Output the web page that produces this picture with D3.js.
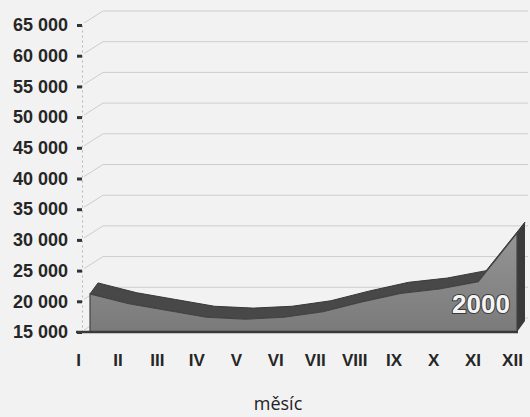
<!DOCTYPE html>
<html>
<head>
<meta charset="utf-8">
<script src="https://cdn.jsdelivr.net/npm/d3@7/dist/d3.min.js"></script>
<style>
    body { margin: 0; background: #f2f2f2; }
    svg { display: block; }
    .y-axis text, .x-axis text { font-family: "Liberation Sans", Arial, sans-serif; font-weight: bold; fill: #262626; }
</style>
</head>
<body>
<svg id="chart" width="530" height="417"></svg>
<script>
// data
var months = ["I", "II", "III", "IV", "V", "VI", "VII", "VIII", "IX", "X", "XI", "XII"];
var visitors = [21200, 19600, 18500, 17400, 17100, 17400, 18300, 19900, 21300, 22000, 23200, 31100];
var yTicks = [15000, 20000, 25000, 30000, 35000, 40000, 45000, 50000, 55000, 60000, 65000];
var seriesName = "2000";
var xTitle = "měsíc";

var svg = d3.select("#chart"),
    width = 530,
    wall = { dx: 21, dy: -14 },   // back wall offset (3D look)
    depth = { dx: 8, dy: -11 };   // thickness of the area ribbon

var cz = d3.formatLocale({ decimal: ",", thousands: " ", grouping: [3], currency: ["", " Kč"] });
var fmt = cz.format(",d");

var y = d3.scaleLinear().domain([15000, 65000]).range([332, 25]);
var xArea = d3.scalePoint().domain(months).range([90, 517]);
var xLabel = d3.scalePoint().domain(months).range([78, 512]);

// back wall gridlines
svg.append("g").classed("grid", true)
    .selectAll("path")
    .data(yTicks)
    .enter()
    .append("path")
    .attr("d", function (t) {
        var y0 = y(t);
        return "M84," + (y0 - 2) + "L" + (82 + wall.dx) + "," + (y0 + wall.dy) + "L" + (width - 2) + "," + (y0 + wall.dy);
    })
    .style("fill", "none")
    .style("stroke", "#cdcdcd")
    .style("stroke-width", 1);

// y axis
var yAxis = d3.axisLeft(y)
    .tickValues(yTicks)
    .tickFormat(fmt)
    .tickSizeInner(5)
    .tickSizeOuter(0)
    .tickPadding(9);

var yAxisGroup = svg.append("g").classed("y-axis", true)
    .attr("transform", "translate(82,0)")
    .call(yAxis);
yAxisGroup.select(".domain").style("stroke", "#b5b5b5").style("stroke-dasharray", "2,3");
yAxisGroup.selectAll(".tick line").style("stroke", "#333").style("stroke-width", 3);
yAxisGroup.selectAll(".tick text").style("font-size", "18px");

// ribbon top surface
var pts = months.map(function (m, i) { return [xArea(m), y(visitors[i])]; });
var topPath = "M" + pts.map(function (p) { return p[0] + "," + p[1]; }).join("L") +
    "L" + pts.slice().reverse().map(function (p) { return (p[0] + depth.dx) + "," + (p[1] + depth.dy); }).join("L") + "Z";
svg.append("path").classed("ribbon-top", true)
    .attr("d", topPath)
    .style("fill", "#484848")
    .style("stroke", "#383838")
    .style("stroke-width", 1);

// ribbon right side
var last = pts[pts.length - 1];
svg.append("path").classed("ribbon-side", true)
    .attr("d", "M" + last[0] + "," + last[1] +
        "L" + (last[0] + depth.dx) + "," + (last[1] + depth.dy) +
        "L" + (last[0] + depth.dx) + "," + (y(15000) + depth.dy) +
        "L" + last[0] + "," + y(15000) + "Z")
    .style("fill", "#3a3a3a");

// front face
var grad = svg.append("defs").append("linearGradient")
    .attr("id", "front").attr("x1", 0).attr("y1", 0).attr("x2", 0).attr("y2", 1);
grad.append("stop").attr("offset", "0%").attr("stop-color", "#959595");
grad.append("stop").attr("offset", "100%").attr("stop-color", "#7a7a7a");

var area = d3.area()
    .x(function (d, i) { return xArea(months[i]); })
    .y0(y(15000))
    .y1(function (d) { return y(d); });

svg.append("path").classed("front", true)
    .datum(visitors)
    .attr("d", area)
    .style("fill", "url(#front)")
    .style("stroke", "#444")
    .style("stroke-width", 1.2);

// floor edge
svg.append("line")
    .attr("x1", 76).attr("x2", 518)
    .attr("y1", y(15000)).attr("y2", y(15000))
    .style("stroke", "#3a3a3a")
    .style("stroke-width", 2.5);

// series label
svg.append("text")
    .attr("x", 481).attr("y", 313)
    .attr("text-anchor", "middle")
    .style("font-family", "'Liberation Sans', Arial, sans-serif")
    .style("font-weight", "bold")
    .style("font-size", "26px")
    .style("fill", "#f4f4f4")
    .style("stroke", "#3a3a3a")
    .style("stroke-width", 2)
    .style("paint-order", "stroke")
    .text(seriesName);

// x axis (month labels)
var xAxis = d3.axisBottom(xLabel).tickSize(0).tickPadding(13);
var xAxisGroup = svg.append("g").classed("x-axis", true)
    .attr("transform", "translate(0,341)")
    .call(xAxis);
xAxisGroup.select(".domain").remove();
xAxisGroup.selectAll(".tick text").style("font-size", "17px");

// axis title
svg.append("text")
    .attr("x", 278).attr("y", 410)
    .attr("text-anchor", "middle")
    .style("font-family", "'Open Sans', 'Noto Sans', sans-serif")
    .style("font-size", "18px")
    .style("fill", "#222")
    .text(xTitle);
</script>
</body>
</html>
